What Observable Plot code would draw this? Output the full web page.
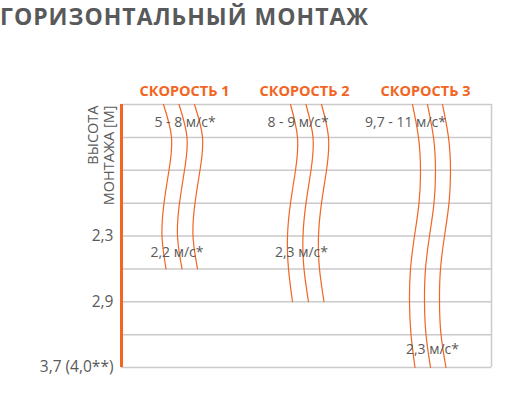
<!DOCTYPE html>
<html>
<head>
<meta charset="utf-8">
<script src="https://cdn.jsdelivr.net/npm/d3@7"></script>
<script src="https://cdn.jsdelivr.net/npm/@observablehq/plot@0.6"></script>
<style>
  html, body { margin: 0; padding: 0; background: #fff; }
  #title { position: relative; height: 40px; font-family: "Open Sans", sans-serif; font-weight: 700; font-size: 23px; line-height: normal; color: #58595b; white-space: nowrap; }
  #title span { position: absolute; left: 0; top: 0; }
  #chart svg { display: block; }
</style>
</head>
<body>
<div id="title"><span>ГОРИЗОНТАЛЬНЫЙ МОНТАЖ</span></div>
<div id="chart"></div>
<script>
// ---- data ----
const gridRows = [0, 1, 2, 3, 4, 5, 6, 7, 8];
const tickRows = [4, 6, 8];
const tickLabels = ["2,3", "2,9", "3,7 (4,0**)"];
const axisTitle = "ВЫСОТА\nМОНТАЖА [М]";

const headers = ["СКОРОСТЬ 1", "СКОРОСТЬ 2", "СКОРОСТЬ 3"];
const headerX = [6.3, 18.3, 30.4];

const speedText = ["5 - 8 м/с*", "8 - 9 м/с*", "9,7 - 11 м/с*", "2,2 м/с*", "2,3 м/с*", "2,3 м/с*"];
const speedX = [6.35, 17.65, 28.4, 5.55, 18.0, 31.1];
const speedRow = [0.55, 0.55, 0.55, 4.5, 4.5, 7.45];

// wavy lines: x position at each grid row (row index = array index)
const speed1Line1 = [4.2, 5.0, 4.75, 4.25, 4.05, 4.45];
const speed1Line2 = [5.75, 6.55, 6.3, 5.8, 5.6, 6.05];
const speed1Line3 = [7.3, 8.1, 7.85, 7.35, 7.15, 7.6];
const speed2Line1 = [16.9, 17.6, 17.4, 16.9, 16.6, 16.7, 17.1];
const speed2Line2 = [18.45, 19.15, 18.95, 18.45, 18.15, 18.25, 18.7];
const speed2Line3 = [20.0, 20.7, 20.5, 20.0, 19.7, 19.8, 20.25];
const speed3Line1 = [29.1, 29.7, 29.9, 29.75, 29.3, 28.9, 28.8, 28.95, 29.35];
const speed3Line2 = [30.6, 31.2, 31.4, 31.25, 30.8, 30.4, 30.3, 30.45, 30.9];
const speed3Line3 = [32.1, 32.7, 32.9, 32.75, 32.3, 31.9, 31.8, 31.95, 32.45];

const wavyLines = [speed1Line1, speed1Line2, speed1Line3, speed2Line1, speed2Line2, speed2Line3, speed3Line1, speed3Line2, speed3Line3];
const wavyData = wavyLines.flatMap((arr, k) => arr.map((x, i) => ({x, row: i, line: k})));

const ORANGE = "#f26522";
const GRAY_TEXT = "#5a5a5a";
const GRID = "#cacaca";

const plot = Plot.plot({
  width: 530,
  height: 355,
  marginLeft: 121,
  marginRight: 39,
  marginTop: 64,
  marginBottom: 28,
  style: {fontFamily: "'Open Sans', sans-serif", background: "#fff", overflow: "visible"},
  x: {domain: [0, 37], axis: null},
  y: {domain: [0, 8], reverse: true},
  marks: [
    Plot.ruleY(gridRows, {stroke: GRID, strokeWidth: 1.5}),
    Plot.ruleX([37], {y1: 0, y2: 8, stroke: GRID, strokeWidth: 1.5}),
    Plot.line(wavyData, {x: "x", y: "row", z: "line", curve: "natural", stroke: ORANGE, strokeWidth: 1.2}),
    Plot.ruleX([0], {y1: 0, y2: 8, stroke: ORANGE, strokeWidth: 3}),
    Plot.axisY({ticks: tickRows, tickFormat: d => tickLabels[tickRows.indexOf(d)], tickSize: 0, tickPadding: 8, fontSize: 15.5, color: GRAY_TEXT, label: null}),
    Plot.text([axisTitle], {x: -2.1, y: 0.03, text: d => d, rotate: -90, textAnchor: "end", lineAnchor: "middle", fontSize: 14.5, fill: GRAY_TEXT, lineHeight: 1.1}),
    Plot.text(headers, {x: (d, i) => headerX[i], y: -0.4, text: d => d, fontSize: 14.5, fontWeight: 700, fill: ORANGE, textAnchor: "middle"}),
    Plot.text(speedText, {x: (d, i) => speedX[i], y: (d, i) => speedRow[i], text: d => d, fontSize: 14, fill: GRAY_TEXT, textAnchor: "middle"})
  ]
});
document.getElementById("chart").appendChild(plot);

// stretch title letter spacing to the reference width
const t = document.querySelector("#title span");
const w = t.getBoundingClientRect().width;
const n = t.textContent.length;
t.style.letterSpacing = ((368 - w) / (n - 1)) + "px";
</script>
</body>
</html>
